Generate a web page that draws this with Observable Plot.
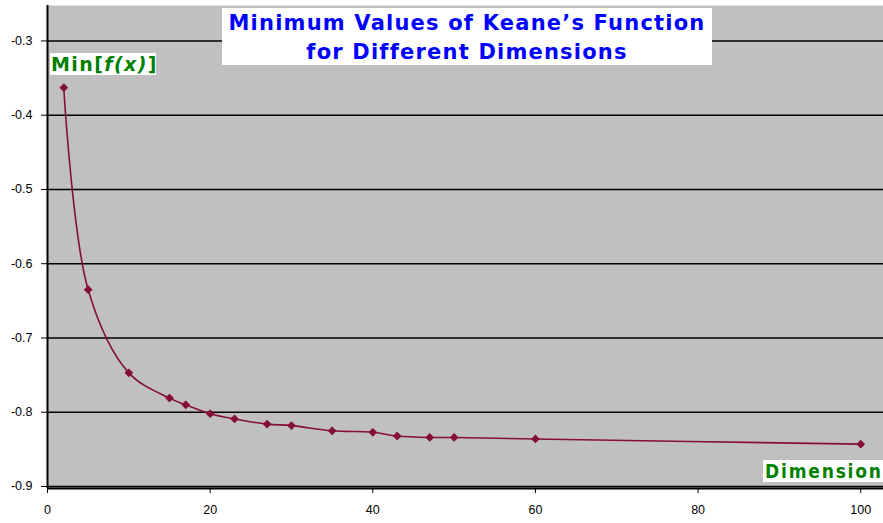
<!DOCTYPE html>
<html><head><meta charset="utf-8">
<script src="https://cdn.jsdelivr.net/npm/d3@7"></script>
<script src="https://cdn.jsdelivr.net/npm/@observablehq/plot@0.6"></script>
<style>
html,body{margin:0;padding:0;background:#fff;}
#wrap{position:relative;width:883px;height:523px;overflow:hidden;}
#wrap svg{display:block;}
.box{position:absolute;background:#fff;white-space:nowrap;box-sizing:border-box;}
#title{left:222px;top:8px;width:490px;height:57px;text-align:center;color:#0000ff;font:bold 21px/29px "DejaVu Sans",Verdana,sans-serif;padding-top:1px;letter-spacing:1.2px;}
#ylab{left:50px;top:53px;width:106px;height:22px;color:#008000;font:bold 19px/22px "DejaVu Sans",sans-serif;padding-left:1px;letter-spacing:1.4px;}
#xlab{left:763px;top:460px;width:120px;height:22px;color:#008000;font:bold 19px/22px "DejaVu Sans Condensed","DejaVu Sans",sans-serif;padding-left:2px;letter-spacing:1.8px;}
</style></head><body><div id="wrap"></div>
<script>
const dimensions = [2, 5, 10, 15, 17, 20, 23, 27, 30, 35, 40, 43, 47, 50, 60, 100];
const minValues = [-0.363, -0.635, -0.747, -0.781, -0.790, -0.802, -0.809, -0.816, -0.818, -0.825, -0.827, -0.832, -0.834, -0.834, -0.836, -0.843];
const yTicks = [-0.3, -0.4, -0.5, -0.6, -0.7, -0.8, -0.9];
const xTicks = [0, 20, 40, 60, 80, 100];
const titleLines = ["Minimum Values of Keane’s Function", "for Different Dimensions"];
const yLabelText = ["Min[", "f(x)", "]"];
const xLabelText = "Dimension";

const data = dimensions.map((d, i) => ({dim: d, val: minValues[i]}));
const lineColor = "#850f35";
const yBottom = -0.9027, yTop = -0.2523;

const chart = Plot.plot({
  width: 883, height: 523,
  marginLeft: 47, marginRight: 0, marginTop: 5, marginBottom: 35,
  style: {fontFamily: "'Liberation Sans', Arial, sans-serif", fontSize: "12.5px", background: "transparent", color: "#000"},
  x: {domain: [0, 102.8]},
  y: {domain: [yBottom, yTop]},
  marks: [
    Plot.frame({fill: "#c0c0c0", stroke: null}),
    Plot.ruleY(yTicks, {stroke: "#000", strokeWidth: 1.5}),
    Plot.ruleY([yBottom], {stroke: "#000", strokeWidth: 2}),
    Plot.ruleX([0], {stroke: "#000", strokeWidth: 2}),
    Plot.axisX({ticks: xTicks, tickFormat: d => String(d), tickSize: 5, tickPadding: 12, label: null}),
    Plot.axisY({ticks: yTicks, tickFormat: d => d.toFixed(1), tickSize: 6, tickPadding: 9, label: null}),
    Plot.line(data, {x: "dim", y: "val", curve: "catmull-rom", stroke: lineColor, strokeWidth: 1.6}),
    Plot.dot(data, {x: "dim", y: "val", symbol: "diamond2", fill: lineColor, stroke: lineColor, r: 3})
  ]
});
const wrap = document.getElementById("wrap");
wrap.appendChild(chart);

const t = document.createElement("div");
t.className = "box"; t.id = "title";
t.innerHTML = titleLines.join("<br>");
wrap.appendChild(t);

const yl = document.createElement("div");
yl.className = "box"; yl.id = "ylab";
yl.innerHTML = yLabelText[0] + "<i>" + yLabelText[1] + "</i>" + yLabelText[2];
wrap.appendChild(yl);

const xl = document.createElement("div");
xl.className = "box"; xl.id = "xlab";
xl.textContent = xLabelText;
wrap.appendChild(xl);
</script>
</body></html>
